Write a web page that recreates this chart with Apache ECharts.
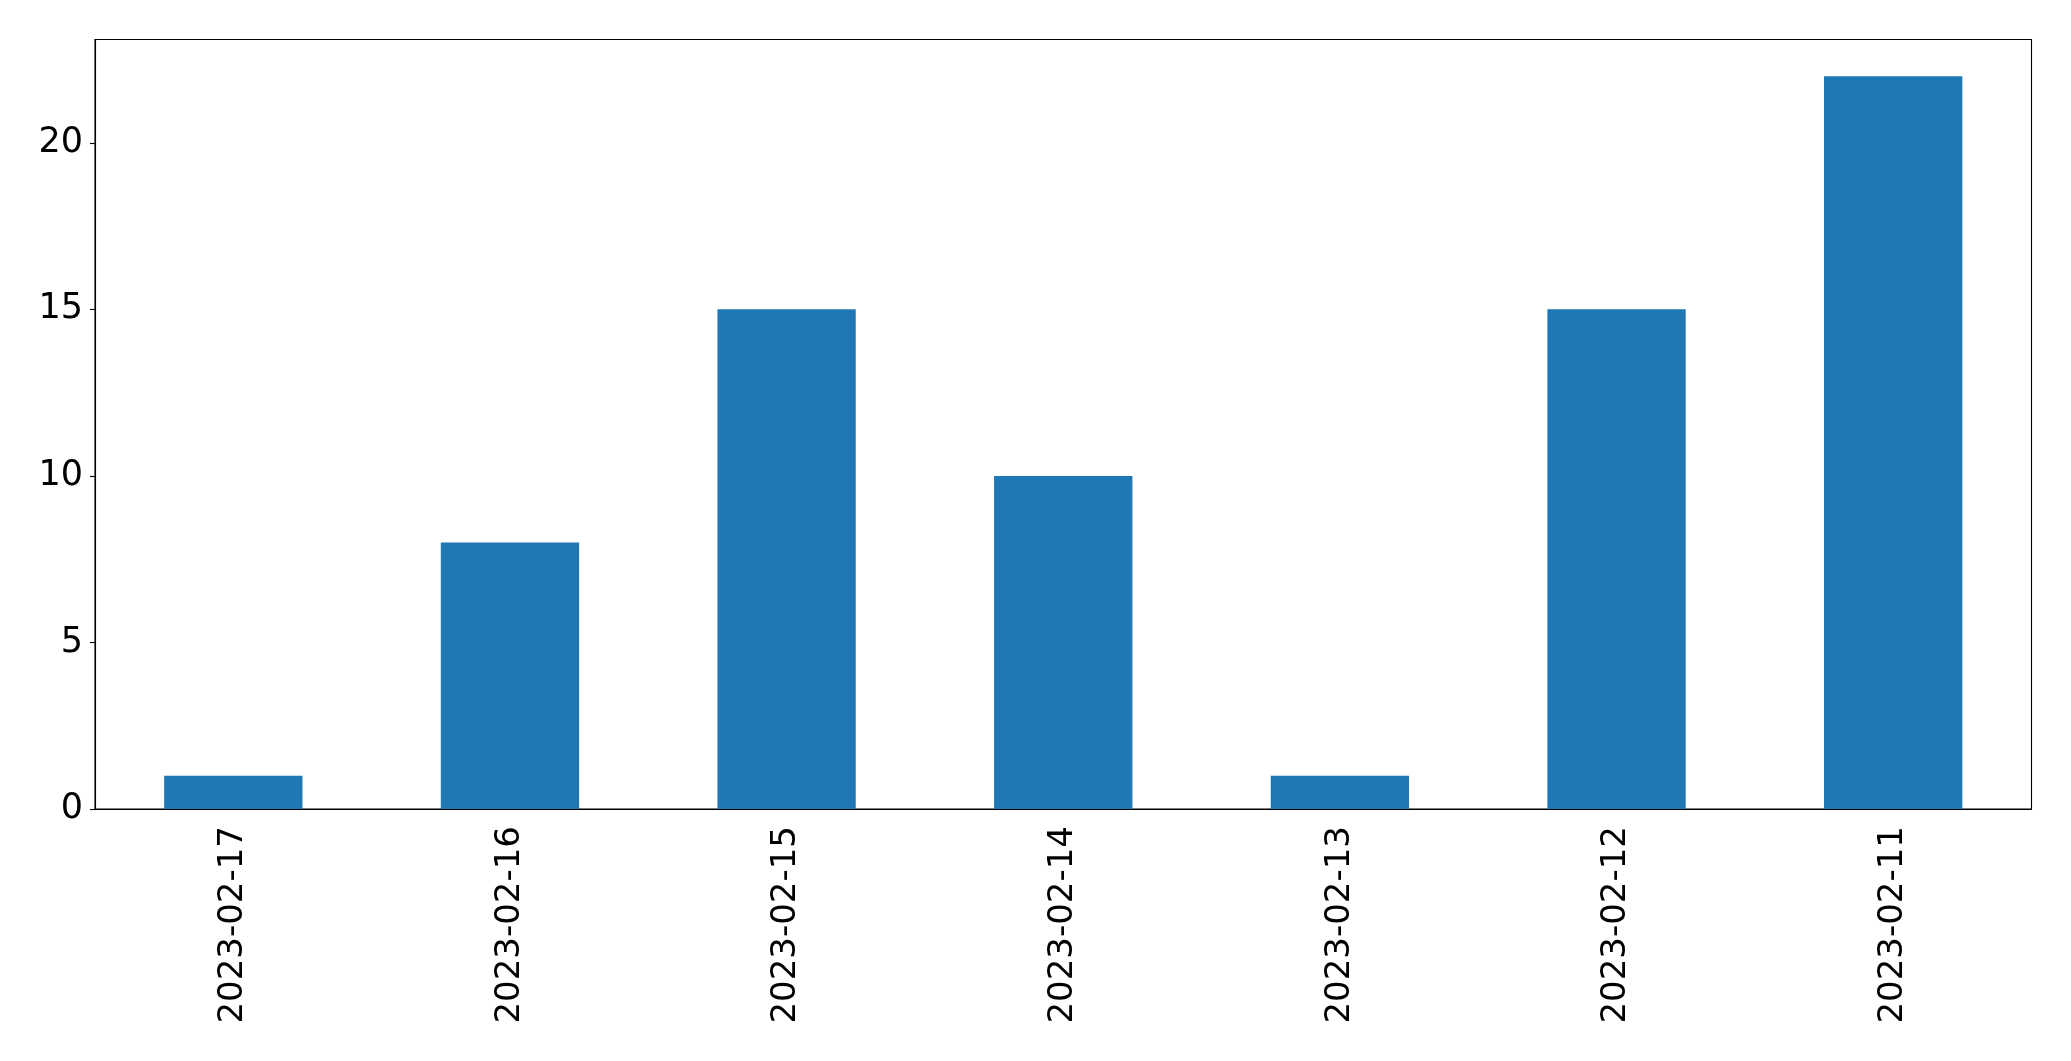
<!DOCTYPE html>
<html>
<head>
<meta charset="utf-8">
<script src="https://cdn.jsdelivr.net/npm/echarts@6/dist/echarts.min.js"></script>
<style>
html,body{margin:0;padding:0;background:#fff;}
#chart{width:2071px;height:1061px;}
</style>
</head>
<body>
<div id="chart"></div>
<script>
const categories = ['2023-02-17','2023-02-16','2023-02-15','2023-02-14','2023-02-13','2023-02-12','2023-02-11'];
const values = [1, 8, 15, 10, 1, 15, 22];
const yTicks = [0, 5, 10, 15, 20];

const chart = echarts.init(document.getElementById('chart'), null, {renderer: 'canvas'});
const font = 'DejaVu Sans';
chart.setOption({
  animation: false,
  backgroundColor: '#ffffff',
  grid: {
    left: 95, right: 39.5, top: 39.5, bottom: 252,
    show: true, borderColor: '#000', borderWidth: 1.1, backgroundColor: 'transparent'
  },
  xAxis: {
    type: 'category',
    data: categories,
    boundaryGap: true,
    axisLine: {lineStyle: {color: '#000', width: 1.1}},
    axisTick: {alignWithLabel: true, length: 5, lineStyle: {color: '#000', width: 1.1}},
    axisLabel: {rotate: 90, margin: 17, fontFamily: font, fontSize: 34, color: '#000'},
    splitLine: {show: false}
  },
  yAxis: {
    type: 'value',
    min: 0,
    max: 23.1,
    axisLine: {show: true, lineStyle: {color: '#000', width: 1.1}},
    axisTick: {show: true, length: 5, customValues: yTicks, lineStyle: {color: '#000', width: 1.1}},
    axisLabel: {margin: 12, fontFamily: font, fontSize: 35, color: '#000', customValues: yTicks, padding: [5, 0, 0, 0]},
    splitLine: {show: false}
  },
  series: [{
    type: 'bar',
    data: values,
    barWidth: '50%',
    itemStyle: {color: '#1f77b4'}
  }]
});
</script>
</body>
</html>
